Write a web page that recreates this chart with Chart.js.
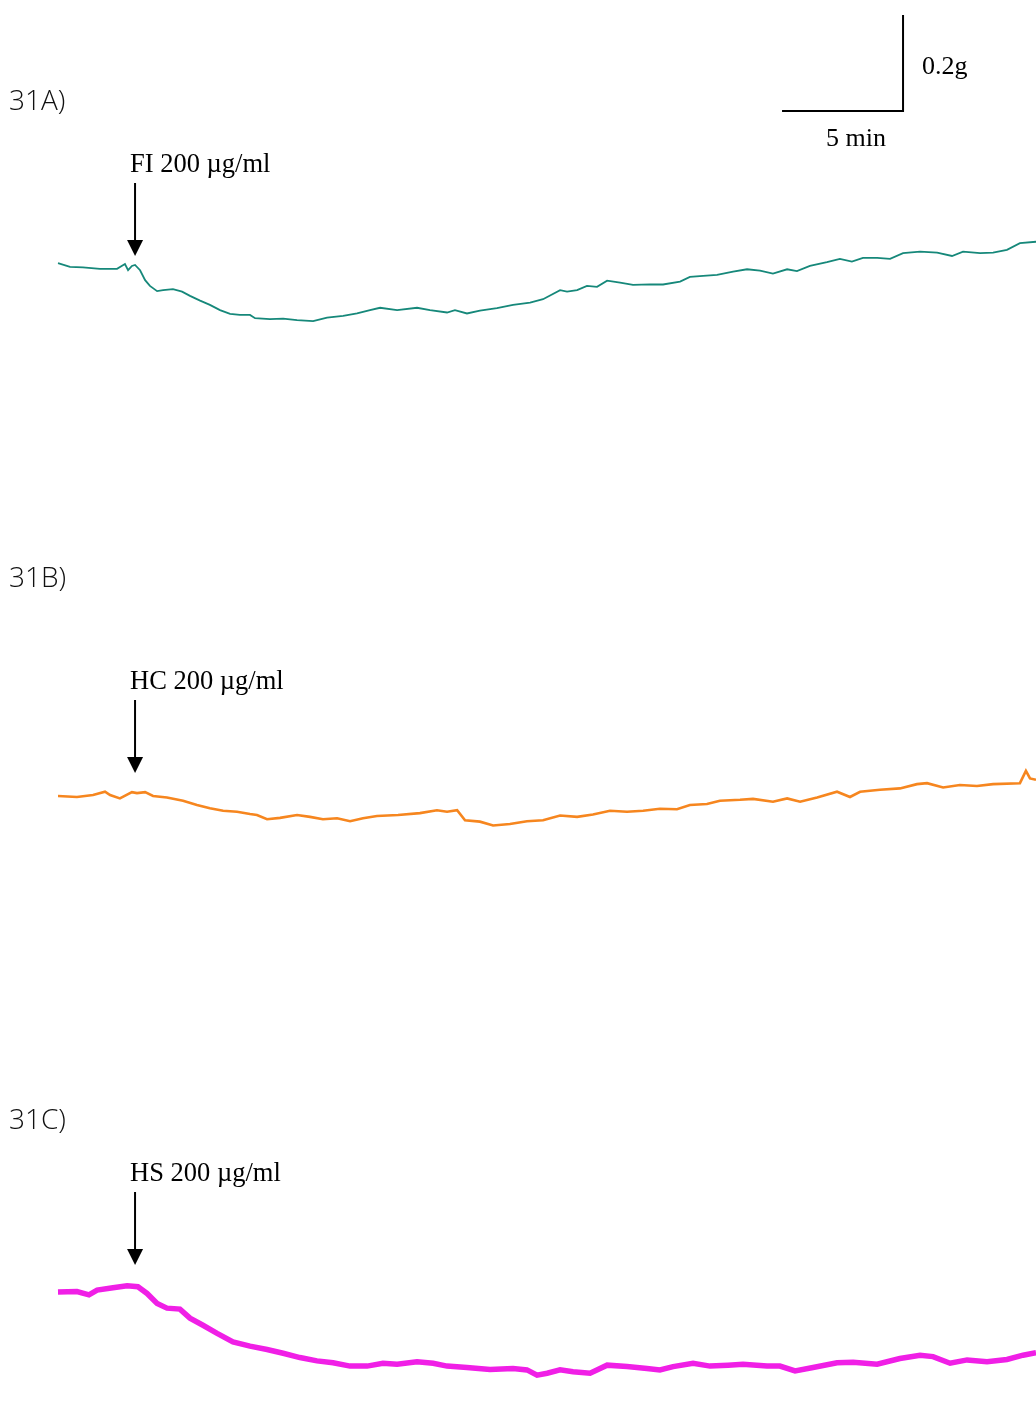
<!DOCTYPE html>
<html>
<head>
<meta charset="utf-8">
<title>Isometric tension recordings</title>
<script src="https://cdn.jsdelivr.net/npm/chart.js@4.4.1/dist/chart.umd.min.js"></script>
<style>
  html, body { margin: 0; padding: 0; background: #ffffff; }
  #wrap { position: relative; width: 1036px; height: 1412px; }
  canvas { display: block; }
</style>
</head>
<body>
<div id="wrap"><canvas id="trace" width="1036" height="1412"></canvas></div>
<script>
// Recording time (min, from start of trace) and tension change (g) for each extract
const fiTime = [0,0.5,1.04,1.75,2.46,2.79,2.92,3.08,3.21,3.42,3.63,3.83,4.13,4.38,4.79,5.17,5.5,5.92,6.33,6.75,7.17,7.58,8.0,8.21,8.83,9.38,9.96,10.63,11.21,11.88,12.46,13.0,13.42,14.13,14.96,15.5,16.21,16.54,17.04,17.58,18.29,18.96,19.67,20.21,20.92,21.21,21.63,22.04,22.46,22.88,23.42,23.96,24.67,25.21,25.92,26.33,26.88,27.46,28.13,28.71,29.25,29.79,30.38,30.79,31.33,32.04,32.58,33.08,33.54,34.13,34.67,35.21,35.92,36.63,37.25,37.71,38.42,38.96,39.54,40.08,40.75];
const fiTension = [0.004,-0.004,-0.005,-0.008,-0.008,0.002,-0.011,-0.002,0,-0.011,-0.032,-0.044,-0.055,-0.053,-0.051,-0.056,-0.065,-0.075,-0.084,-0.095,-0.103,-0.105,-0.105,-0.112,-0.114,-0.113,-0.116,-0.118,-0.111,-0.107,-0.102,-0.095,-0.090,-0.095,-0.090,-0.095,-0.100,-0.095,-0.102,-0.096,-0.091,-0.084,-0.079,-0.072,-0.053,-0.056,-0.053,-0.044,-0.046,-0.033,-0.037,-0.042,-0.041,-0.041,-0.035,-0.025,-0.023,-0.021,-0.014,-0.009,-0.012,-0.018,-0.009,-0.013,-0.002,0.006,0.013,0.007,0.015,0.015,0.013,0.025,0.028,0.026,0.019,0.028,0.025,0.026,0.032,0.046,0.049];

const hcTime = [0,0.79,1.46,1.96,2.17,2.58,3.08,3.29,3.63,3.96,4.54,5.21,5.79,6.33,6.88,7.46,8.0,8.29,8.71,9.25,9.96,10.5,11.04,11.63,12.17,12.71,13.29,14.17,15.08,15.79,16.21,16.63,16.96,17.58,18.13,18.83,19.54,20.21,20.92,21.63,22.29,23.0,23.71,24.38,25.08,25.79,26.33,27.04,27.58,28.42,28.96,29.79,30.38,30.92,31.63,32.46,33.0,33.42,34.25,35.08,35.79,36.21,36.88,37.58,38.29,38.96,40.08,40.33,40.5,40.75];
const hcTension = [0,-0.002,0.002,0.009,0.002,-0.005,0.008,0.006,0.008,0,-0.003,-0.010,-0.019,-0.026,-0.031,-0.033,-0.038,-0.040,-0.049,-0.046,-0.040,-0.044,-0.049,-0.047,-0.053,-0.047,-0.042,-0.040,-0.036,-0.030,-0.033,-0.030,-0.051,-0.054,-0.062,-0.059,-0.053,-0.051,-0.041,-0.044,-0.039,-0.031,-0.033,-0.031,-0.027,-0.028,-0.019,-0.017,-0.010,-0.008,-0.006,-0.012,-0.005,-0.012,-0.003,0.009,-0.002,0.009,0.013,0.016,0.025,0.027,0.018,0.023,0.021,0.025,0.027,0.053,0.037,0.034];

const hsTime = [0,0.79,1.29,1.63,2.29,2.88,3.33,3.71,4.13,4.54,5.08,5.5,6.04,6.63,7.29,8.0,8.71,9.38,10.08,10.79,11.46,12.17,12.88,13.54,14.13,14.96,15.63,16.21,17.04,18.0,18.96,19.54,19.96,20.38,20.92,21.46,22.17,22.88,23.71,24.54,25.08,25.63,26.46,27.17,27.92,28.54,29.54,30.08,30.71,31.46,32.46,33.13,34.13,35.08,35.92,36.46,37.17,37.88,38.71,39.54,40.21,40.75];
const hsTension = [0,0.001,-0.006,0.004,0.009,0.013,0.011,-0.003,-0.024,-0.034,-0.036,-0.055,-0.070,-0.087,-0.105,-0.114,-0.121,-0.129,-0.138,-0.145,-0.149,-0.156,-0.156,-0.150,-0.152,-0.147,-0.150,-0.156,-0.159,-0.163,-0.161,-0.164,-0.175,-0.171,-0.164,-0.168,-0.171,-0.154,-0.157,-0.161,-0.164,-0.157,-0.150,-0.156,-0.154,-0.152,-0.156,-0.156,-0.166,-0.159,-0.149,-0.148,-0.152,-0.140,-0.133,-0.136,-0.150,-0.143,-0.147,-0.142,-0.133,-0.128];

// Panel captions and drug additions
const panelNames = ['31A)', '31B)', '31C)'];
const drugLabels = ['FI 200 \u00b5g/ml', 'HC 200 \u00b5g/ml', 'HS 200 \u00b5g/ml'];
const drugTime = 3.21;          // min, time of addition
const scaleMinutes = 5;         // calibration bar, time
const scaleGrams = 0.2;         // calibration bar, tension
const scaleLabels = ['0.2g', '5 min'];

// ---- layout ----
const W = 1036, H = 1412;
const pxPerMin = 24;            // horizontal resolution of the recording
const pxPerGram = 475;          // vertical gain
const traceLeft = 58;           // where the recording starts
const baselines = [265, 796, 1292];        // resting level of each trace
const arrowTop = [183, 700, 1192];
const arrowTip = [256, 773, 1265];
const panelLabelY = [102, 579, 1121];
const scaleBarAt = { t: 30.21, g: 0.324 }; // corner anchor on panel A axis

const xMin = -traceLeft / pxPerMin;
const xMax = (W - traceLeft) / pxPerMin;
const ySpan = H / pxPerGram;

function zip(t, v) {
  const n = Math.min(t.length, v.length);
  const out = [];
  for (let i = 0; i < n; i++) out.push({ x: t[i], y: v[i] });
  return out;
}
function yAxis(i) {
  const max = baselines[i] / pxPerGram;
  return { type: 'linear', display: false, min: max - ySpan, max: max };
}

const scaleBar = [
  { x: scaleBarAt.t, y: scaleBarAt.g },
  { x: scaleBarAt.t + scaleMinutes, y: scaleBarAt.g },
  { x: scaleBarAt.t + scaleMinutes, y: scaleBarAt.g + scaleGrams }
];

const annotations = {
  id: 'annotations',
  afterDatasetsDraw(chart) {
    const ctx = chart.ctx;
    const xs = chart.scales.x;
    const ax = xs.getPixelForValue(drugTime);
    ctx.save();
    // panel captions
    ctx.fillStyle = '#111';
    ctx.font = '300 28px "Open Sans", "Liberation Sans", sans-serif';
    ctx.textBaseline = 'middle';
    ctx.textAlign = 'left';
    panelNames.forEach((n, i) => ctx.fillText(n, 9, panelLabelY[i]));
    // drug arrows and labels
    ctx.fillStyle = '#000';
    ctx.strokeStyle = '#000';
    ctx.lineWidth = 2;
    ctx.font = '26.5px "Liberation Serif", "DejaVu Serif", serif';
    ctx.textBaseline = 'alphabetic';
    drugLabels.forEach((lbl, i) => {
      const top = arrowTop[i], tip = arrowTip[i];
      ctx.beginPath();
      ctx.moveTo(ax, top);
      ctx.lineTo(ax, tip - 14);
      ctx.stroke();
      ctx.beginPath();
      ctx.moveTo(ax - 8, tip - 16);
      ctx.lineTo(ax + 8, tip - 16);
      ctx.lineTo(ax, tip);
      ctx.closePath();
      ctx.fill();
      ctx.fillText(lbl, ax - 5, top - 11);
    });
    // calibration labels
    const ya = chart.scales.yA;
    const cx = xs.getPixelForValue(scaleBarAt.t + scaleMinutes);
    const cy = ya.getPixelForValue(scaleBarAt.g);
    ctx.font = '26px "Liberation Serif", "DejaVu Serif", serif';
    ctx.textBaseline = 'middle';
    ctx.textAlign = 'left';
    ctx.fillText(scaleLabels[0], cx + 19, ya.getPixelForValue(scaleBarAt.g + scaleGrams / 2) + 4);
    ctx.textAlign = 'center';
    ctx.fillText(scaleLabels[1], xs.getPixelForValue(scaleBarAt.t + scaleMinutes / 2) + 13, cy + 28);
    ctx.restore();
  }
};

new Chart(document.getElementById('trace'), {
  type: 'line',
  data: {
    datasets: [
      { label: 'FI', data: zip(fiTime, fiTension), yAxisID: 'yA', borderColor: '#16887a', borderWidth: 1.8 },
      { label: 'HC', data: zip(hcTime, hcTension), yAxisID: 'yB', borderColor: '#f6861f', borderWidth: 2.6 },
      { label: 'HS', data: zip(hsTime, hsTension), yAxisID: 'yC', borderColor: '#f01fe6', borderWidth: 5.5 },
      { label: 'scale', data: scaleBar, yAxisID: 'yA', borderColor: '#000000', borderWidth: 2, borderCapStyle: 'square' }
    ]
  },
  options: {
    responsive: false,
    devicePixelRatio: 1,
    animation: false,
    layout: { padding: 0 },
    elements: { point: { radius: 0 }, line: { tension: 0, borderJoinStyle: 'miter' } },
    plugins: { legend: { display: false }, tooltip: { enabled: false } },
    scales: {
      x: { type: 'linear', display: false, min: xMin, max: xMax },
      yA: yAxis(0),
      yB: yAxis(1),
      yC: yAxis(2)
    }
  },
  plugins: [annotations]
});
</script>
</body>
</html>
